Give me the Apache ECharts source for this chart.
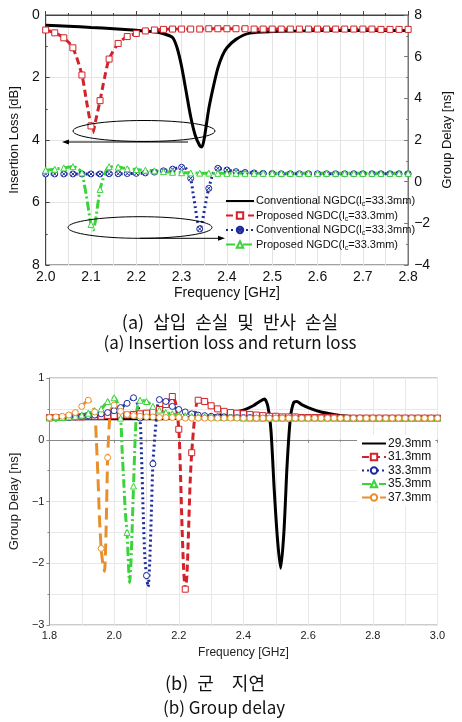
<!DOCTYPE html>
<html>
<head>
<meta charset="utf-8">
<script src="https://cdn.jsdelivr.net/npm/echarts@6/dist/echarts.min.js"></script>
<style>
  html, body { margin: 0; padding: 0; background: #fff; }
  #chart { width: 462px; height: 722px; }
</style>
</head>
<body>
<div id="chart"></div>
<script>
// (a) insertion loss [dB] (left axis) and group delay [ns] (right axis), freq in GHz
const convIL = [[2.00,0.33],[2.05,0.36],[2.10,0.40],[2.15,0.44],[2.20,0.49],[2.24,0.54],[2.26,0.60],[2.28,0.72],[2.29,1.05],[2.30,1.65],[2.31,2.45],[2.32,3.25],[2.33,3.85],[2.34,4.18],[2.345,4.22],[2.35,3.95],[2.36,3.0],[2.37,2.3],[2.38,1.7],[2.39,1.3],[2.40,1.05],[2.42,0.78],[2.45,0.58],[2.50,0.53],[2.60,0.50],[2.70,0.49],[2.80,0.50]]
const propIL = [[2.00,0.48],[2.02,0.57],[2.04,0.73],[2.06,1.05],[2.08,1.92],[2.09,2.75],[2.10,3.55],[2.104,3.77],[2.11,3.4],[2.12,2.74],[2.13,2.0],[2.14,1.41],[2.16,0.91],[2.18,0.69],[2.20,0.59],[2.22,0.51],[2.24,0.48],[2.26,0.46],[2.28,0.45],[2.30,0.45],[2.32,0.45],[2.34,0.45],[2.36,0.44],[2.38,0.44],[2.40,0.44],[2.42,0.44],[2.44,0.44],[2.46,0.45],[2.48,0.45],[2.50,0.45],[2.52,0.45],[2.54,0.45],[2.56,0.45],[2.58,0.45],[2.60,0.45],[2.62,0.45],[2.64,0.45],[2.66,0.45],[2.68,0.45],[2.70,0.45],[2.72,0.45],[2.74,0.46],[2.76,0.46],[2.78,0.46],[2.80,0.46]]
const convGD = [[2.00,0.37],[2.02,0.37],[2.04,0.37],[2.06,0.37],[2.08,0.37],[2.10,0.37],[2.12,0.37],[2.14,0.38],[2.16,0.38],[2.18,0.39],[2.20,0.40],[2.22,0.42],[2.24,0.46],[2.26,0.52],[2.28,0.60],[2.30,0.69],[2.31,0.62],[2.32,0.16],[2.325,-0.5],[2.33,-1.2],[2.335,-1.9],[2.34,-2.27],[2.345,-2.0],[2.35,-1.4],[2.355,-0.8],[2.36,-0.32],[2.37,0.42],[2.38,0.64],[2.40,0.56],[2.42,0.48],[2.44,0.44],[2.46,0.42],[2.48,0.40],[2.50,0.39],[2.52,0.38],[2.54,0.38],[2.56,0.38],[2.58,0.38],[2.60,0.38],[2.62,0.38],[2.64,0.38],[2.66,0.38],[2.68,0.38],[2.70,0.38],[2.72,0.38],[2.74,0.38],[2.76,0.38],[2.78,0.38],[2.80,0.38]]
const propGD = [[2.00,0.55],[2.02,0.60],[2.04,0.66],[2.06,0.72],[2.07,0.65],[2.08,0.42],[2.085,-0.1],[2.09,-0.7],[2.095,-1.4],[2.10,-2.05],[2.105,-2.32],[2.11,-1.85],[2.115,-1.1],[2.12,-0.37],[2.13,0.35],[2.14,0.72],[2.16,0.70],[2.18,0.62],[2.20,0.58],[2.22,0.55],[2.24,0.52],[2.26,0.48],[2.28,0.45],[2.30,0.43],[2.32,0.42],[2.34,0.41],[2.36,0.41],[2.38,0.40],[2.40,0.40],[2.42,0.40],[2.44,0.40],[2.46,0.40],[2.48,0.40],[2.50,0.40],[2.52,0.40],[2.54,0.40],[2.56,0.40],[2.58,0.40],[2.60,0.40],[2.62,0.40],[2.64,0.40],[2.66,0.40],[2.68,0.40],[2.70,0.40],[2.72,0.40],[2.74,0.40],[2.76,0.40],[2.78,0.40],[2.80,0.40]]

// (b) group delay [ns] for five lengths
const gd293 = [[1.80,0.34],[1.90,0.34],[2.00,0.34],[2.10,0.34],[2.20,0.35],[2.25,0.36],[2.30,0.38],[2.35,0.42],[2.40,0.48],[2.43,0.55],[2.45,0.62],[2.465,0.66],[2.475,0.55],[2.485,0.15],[2.495,-0.8],[2.505,-1.6],[2.515,-2.08],[2.525,-1.5],[2.535,-0.4],[2.545,0.35],[2.555,0.6],[2.565,0.62],[2.58,0.57],[2.61,0.50],[2.64,0.45],[2.68,0.41],[2.72,0.38],[2.80,0.36],[2.90,0.35],[3.00,0.35]]
const gd313 = [[1.80,0.36],[1.82,0.36],[1.84,0.36],[1.86,0.37],[1.88,0.37],[1.90,0.37],[1.92,0.38],[1.94,0.38],[1.96,0.38],[1.98,0.39],[2.00,0.39],[2.02,0.40],[2.04,0.40],[2.06,0.41],[2.08,0.42],[2.10,0.43],[2.12,0.45],[2.14,0.49],[2.16,0.57],[2.18,0.70],[2.19,0.60],[2.20,0.17],[2.205,-0.5],[2.21,-1.4],[2.215,-2.1],[2.22,-2.42],[2.225,-2.2],[2.23,-1.5],[2.235,-0.7],[2.24,-0.21],[2.25,0.40],[2.26,0.64],[2.28,0.62],[2.30,0.55],[2.32,0.50],[2.34,0.46],[2.36,0.44],[2.38,0.43],[2.40,0.42],[2.42,0.41],[2.44,0.40],[2.46,0.39],[2.48,0.38],[2.50,0.38],[2.52,0.37],[2.54,0.37],[2.56,0.37],[2.58,0.36],[2.60,0.36],[2.62,0.36],[2.64,0.36],[2.66,0.36],[2.68,0.36],[2.70,0.35],[2.72,0.35],[2.74,0.35],[2.76,0.35],[2.78,0.35],[2.80,0.35],[2.82,0.35],[2.84,0.35],[2.86,0.35],[2.88,0.35],[2.90,0.35],[2.92,0.35],[2.94,0.35],[2.96,0.35],[2.98,0.35],[3.00,0.35]]
const gd333 = [[1.80,0.35],[1.82,0.35],[1.84,0.36],[1.86,0.36],[1.88,0.37],[1.90,0.38],[1.92,0.39],[1.94,0.40],[1.96,0.42],[1.98,0.44],[2.00,0.47],[2.02,0.52],[2.04,0.59],[2.06,0.68],[2.07,0.62],[2.08,0.35],[2.085,-0.3],[2.09,-1.2],[2.095,-1.9],[2.10,-2.2],[2.105,-2.38],[2.11,-2.0],[2.115,-1.2],[2.12,-0.39],[2.13,0.30],[2.14,0.65],[2.16,0.62],[2.18,0.54],[2.20,0.49],[2.22,0.45],[2.24,0.42],[2.26,0.40],[2.28,0.39],[2.30,0.38],[2.32,0.37],[2.34,0.37],[2.36,0.36],[2.38,0.36],[2.40,0.36],[2.42,0.36],[2.44,0.35],[2.46,0.35],[2.48,0.35],[2.50,0.35],[2.52,0.35],[2.54,0.35],[2.56,0.35],[2.58,0.35],[2.60,0.35],[2.62,0.35],[2.64,0.35],[2.66,0.35],[2.68,0.35],[2.70,0.35],[2.72,0.35],[2.74,0.35],[2.76,0.35],[2.78,0.35],[2.80,0.35],[2.82,0.35],[2.84,0.35],[2.86,0.35],[2.88,0.35],[2.90,0.35],[2.92,0.35],[2.94,0.35],[2.96,0.35],[2.98,0.35],[3.00,0.35]]
const gd353 = [[1.80,0.35],[1.82,0.36],[1.84,0.36],[1.86,0.37],[1.88,0.38],[1.90,0.40],[1.92,0.43],[1.94,0.46],[1.96,0.50],[1.98,0.62],[2.00,0.68],[2.01,0.60],[2.02,0.35],[2.025,-0.2],[2.03,-0.7],[2.035,-1.2],[2.04,-1.5],[2.045,-2.1],[2.048,-2.31],[2.052,-2.0],[2.056,-1.4],[2.06,-0.75],[2.065,0.0],[2.07,0.45],[2.08,0.64],[2.10,0.62],[2.12,0.54],[2.14,0.48],[2.16,0.44],[2.18,0.42],[2.20,0.40],[2.22,0.39],[2.24,0.38],[2.26,0.38],[2.28,0.37],[2.30,0.37],[2.32,0.36],[2.34,0.36],[2.36,0.36],[2.38,0.36],[2.40,0.35],[2.42,0.35],[2.44,0.35],[2.46,0.35],[2.48,0.35],[2.50,0.35],[2.52,0.35],[2.54,0.35],[2.56,0.35],[2.58,0.35],[2.60,0.35],[2.62,0.35],[2.64,0.35],[2.66,0.35],[2.68,0.35],[2.70,0.35],[2.72,0.35],[2.74,0.35],[2.76,0.35],[2.78,0.35],[2.80,0.35],[2.82,0.35],[2.84,0.35],[2.86,0.35],[2.88,0.35],[2.90,0.35],[2.92,0.35],[2.94,0.35],[2.96,0.35],[2.98,0.35],[3.00,0.35]]
const gd373 = [[1.80,0.36],[1.82,0.37],[1.84,0.38],[1.86,0.40],[1.88,0.44],[1.90,0.54],[1.92,0.64],[1.93,0.60],[1.94,0.45],[1.945,0.0],[1.95,-0.6],[1.955,-1.3],[1.96,-1.76],[1.965,-2.0],[1.97,-2.13],[1.975,-1.5],[1.98,-0.29],[1.985,0.25],[1.99,0.48],[2.00,0.56],[2.02,0.46],[2.04,0.41],[2.06,0.39],[2.08,0.38],[2.10,0.37],[2.12,0.37],[2.14,0.36],[2.16,0.36],[2.18,0.36],[2.20,0.36],[2.22,0.35],[2.24,0.35],[2.26,0.35],[2.28,0.35],[2.30,0.35],[2.32,0.35],[2.34,0.35],[2.36,0.35],[2.38,0.35],[2.40,0.35],[2.42,0.35],[2.44,0.35],[2.46,0.35],[2.48,0.35],[2.50,0.35],[2.52,0.35],[2.54,0.35],[2.56,0.35],[2.58,0.35],[2.60,0.35],[2.62,0.35],[2.64,0.35],[2.66,0.35],[2.68,0.35],[2.70,0.35],[2.72,0.35],[2.74,0.35],[2.76,0.35],[2.78,0.35],[2.80,0.35],[2.82,0.35],[2.84,0.35],[2.86,0.35],[2.88,0.35],[2.90,0.35],[2.92,0.35],[2.94,0.35],[2.96,0.35],[2.98,0.35],[3.00,0.35]]

const legendTop = {
  convIL: 'Conventional NGDC(l{sub|c}=33.3mm)',
  propIL: 'Proposed NGDC(l{sub|c}=33.3mm)',
  convGD: 'Conventional NGDC(l{sub|c}=33.3mm)',
  propGD: 'Proposed NGDC(l{sub|c}=33.3mm)'
}
const lengths = ['29.3mm', '31.3mm', '33.3mm', '35.3mm', '37.3mm']

const FONT = '"Liberation Sans", Arial, sans-serif'
const KFONT = '"Noto Sans CJK KR", sans-serif'
const RED = '#d2232a', BLUE = '#1b2a9c', GREEN = '#3ad43a', ORANGE = '#e88f2c'
// open circle with a cross, like the conventional group-delay markers
const CROSS_CIRCLE = 'path://M20,10A10,10,0,1,1,0,10A10,10,0,1,1,20,10Z M3,3L17,17 M17,3L3,17'

// markers only on the 0.02 GHz grid
function marked(arr) {
  return arr.map(p => {
    const k = p[0] * 50
    return Math.abs(k - Math.round(k)) < 1e-6 ? p : { value: p, symbol: 'none' }
  })
}
const minus = v => String(v).replace('-', '\u2212')

function lineSeries(name, data, color, type, symbol, axis) {
  const plain = symbol === 'none'
  return {
    name: name,
    type: 'line',
    xAxisIndex: axis[0],
    yAxisIndex: axis[1],
    data: plain ? data : marked(data),
    smooth: 0.25,
    symbol: symbol,
    symbolSize: 6,
    showSymbol: true,
    showAllSymbol: true,
    lineStyle: { color: color, width: 3, type: type },
    itemStyle: plain ? { color: color, opacity: 0 } : { color: '#fff', borderColor: color, borderWidth: 1 },
    emphasis: { disabled: true },
    animation: false
  }
}

const axisText = (size, color) => ({ fontSize: size, color: color, fontFamily: FONT })

const myChart = echarts.init(document.getElementById('chart'))
myChart.setOption({
  backgroundColor: '#fff',
  textStyle: { fontFamily: FONT },
  grid: [
    { left: 38, top: 15, width: 379, height: 250, show: true, borderColor: '#444', borderWidth: 1 },
    { left: 38.5, top: 378, width: 399, height: 247, show: true, borderColor: '#999', borderWidth: 1 }
  ],
  xAxis: [
    {
      type: 'value', gridIndex: 0, min: 2.0, max: 2.8, interval: 0.1,
      name: 'Frequency [GHz]', nameLocation: 'middle', nameGap: 21,
      nameTextStyle: axisText(14, '#111'),
      axisLine: { lineStyle: { color: '#444' } },
      axisTick: { inside: true, length: 4, lineStyle: { color: '#444' } },
      minorTick: { show: true, splitNumber: 2, length: 2, lineStyle: { color: '#444' } },
      splitLine: { show: true, lineStyle: { color: '#e4e4e4' } },
      minorSplitLine: { show: true, lineStyle: { color: '#e4e4e4' } },
      axisLabel: Object.assign(axisText(14, '#111'), { margin: 5, formatter: v => v.toFixed(1) })
    },
    {
      type: 'value', gridIndex: 1, min: 1.8, max: 3.0, interval: 0.2,
      name: 'Frequency [GHz]', nameLocation: 'middle', nameGap: 22,
      nameTextStyle: axisText(12, '#222'),
      axisLine: { lineStyle: { color: '#888' } },
      axisTick: { length: 3, lineStyle: { color: '#888' } },
      minorTick: { show: true, splitNumber: 2, length: 2, lineStyle: { color: '#888' } },
      splitLine: { show: true, lineStyle: { color: '#e8e8e8' } },
      minorSplitLine: { show: true, lineStyle: { color: '#e8e8e8' } },
      axisLabel: Object.assign(axisText(11, '#222'), { margin: 5, formatter: v => v.toFixed(1) })
    }
  ],
  yAxis: [
    {
      type: 'value', gridIndex: 0, min: 0, max: 8, interval: 2, inverse: true,
      name: 'Insertion Loss [dB]', nameLocation: 'middle', nameGap: 20, nameRotate: 90,
      nameTextStyle: axisText(13, '#111'),
      axisLine: { show: true, lineStyle: { color: '#444' } },
      axisTick: { show: true, inside: true, length: 4, lineStyle: { color: '#444' } },
      minorTick: { show: true, splitNumber: 2, length: 2, lineStyle: { color: '#444' } },
      splitLine: { show: true, lineStyle: { color: '#e4e4e4' } },
      axisLabel: Object.assign(axisText(14, '#111'), { margin: 6 })
    },
    {
      type: 'value', gridIndex: 0, min: -4, max: 8, interval: 2, position: 'right',
      name: 'Group Delay [ns]', nameLocation: 'middle', nameGap: 26, nameRotate: 90,
      nameTextStyle: axisText(13, '#111'),
      axisLine: { show: true, lineStyle: { color: '#777' } },
      axisTick: { show: true, inside: true, length: 4, lineStyle: { color: '#777' } },
      minorTick: { show: true, splitNumber: 2, length: 2, lineStyle: { color: '#777' } },
      splitLine: { show: false },
      axisLabel: Object.assign(axisText(14, '#111'), { margin: 6, formatter: minus })
    },
    {
      type: 'value', gridIndex: 1, min: -3, max: 1, interval: 1,
      name: 'Group Delay [ns]', nameLocation: 'middle', nameGap: 20, nameRotate: 90,
      nameTextStyle: axisText(13, '#222'),
      axisLine: { show: true, lineStyle: { color: '#888' } },
      axisTick: { show: true, length: 3, lineStyle: { color: '#888' } },
      minorTick: { show: true, splitNumber: 2, length: 2, lineStyle: { color: '#888' } },
      splitLine: { show: true, lineStyle: { color: '#e8e8e8' } },
      minorSplitLine: { show: true, lineStyle: { color: '#e8e8e8' } },
      axisLabel: Object.assign(axisText(11, '#222'), { margin: 5, formatter: minus })
    }
  ],
  legend: [
    {
      data: ['convIL', 'propIL', 'convGD', 'propGD'],
      orient: 'vertical', left: 225, top: 194, itemWidth: 28, itemHeight: 8, itemGap: 0.5, padding: 0,
      formatter: n => legendTop[n],
      selectedMode: false,
      textStyle: { fontSize: 11, color: '#111', fontFamily: FONT, padding: [0, 0, 0, -3], lineHeight: 14,
        rich: { sub: { fontSize: 7, lineHeight: 14, fontFamily: FONT, verticalAlign: 'bottom' } } }
    },
    {
      data: lengths,
      orient: 'vertical', left: 357, top: 435, itemWidth: 24, itemHeight: 8, itemGap: 0.5,
      backgroundColor: '#fff', padding: [2, 4, 2, 4],
      selectedMode: false,
      textStyle: { fontSize: 12, color: '#111', fontFamily: FONT, lineHeight: 13, padding: [0, 0, 0, -3] }
    }
  ],
  series: [
    lineSeries('convIL', convIL, '#000', 'solid', 'none', [0, 0]),
    lineSeries('propIL', propIL, RED, [7, 4], 'rect', [0, 0]),
    lineSeries('convGD', convGD, BLUE, [2, 3], CROSS_CIRCLE, [0, 1]),
    lineSeries('propGD', propGD, GREEN, [9, 3, 2, 3], 'triangle', [0, 1]),
    lineSeries(lengths[0], gd293, '#000', 'solid', 'none', [1, 2]),
    lineSeries(lengths[1], gd313, RED, [7, 4], 'rect', [1, 2]),
    lineSeries(lengths[2], gd333, BLUE, [2, 3], 'circle', [1, 2]),
    lineSeries(lengths[3], gd353, GREEN, [9, 3, 2, 3], 'triangle', [1, 2]),
    lineSeries(lengths[4], gd373, ORANGE, [12, 6], 'circle', [1, 2])
  ],
  graphic: [
    { type: 'ellipse', shape: { cx: 144, cy: 131, rx: 71, ry: 10.5 }, style: { fill: 'none', stroke: '#000', lineWidth: 1 }, z: 10 },
    { type: 'line', shape: { x1: 188, y1: 142, x2: 66, y2: 142 }, style: { stroke: '#000', lineWidth: 1 }, z: 10 },
    { type: 'polygon', shape: { points: [[62, 142], [69, 139.5], [69, 144.5]] }, style: { fill: '#000' }, z: 10 },
    { type: 'ellipse', shape: { cx: 140, cy: 227.5, rx: 72, ry: 10.8 }, style: { fill: 'none', stroke: '#000', lineWidth: 1 }, z: 10 },
    { type: 'line', shape: { x1: 140, y1: 238.3, x2: 221, y2: 238.3 }, style: { stroke: '#000', lineWidth: 1 }, z: 10 },
    { type: 'polygon', shape: { points: [[225, 238.3], [218, 235.8], [218, 240.8]] }, style: { fill: '#000' }, z: 10 },
    { type: 'text', x: 230, y: 322, style: { text: '(a)\u2002삽입\u2002손실\u2002및\u2002반사\u2002손실', fontSize: 18, fontFamily: KFONT, fill: '#111', align: 'center', verticalAlign: 'middle' } },
    { type: 'text', x: 230, y: 343, style: { text: '(a) Insertion loss and return loss', fontSize: 17, fontFamily: KFONT, fill: '#111', align: 'center', verticalAlign: 'middle' } },
    { type: 'text', x: 215, y: 683, style: { text: '(b)\u2002군\u2002\u2002지연', fontSize: 18, fontFamily: KFONT, fill: '#111', align: 'center', verticalAlign: 'middle' } },
    { type: 'text', x: 224, y: 708, style: { text: '(b) Group delay', fontSize: 17, fontFamily: KFONT, fill: '#111', align: 'center', verticalAlign: 'middle' } }
  ]
})
window.onresize = () => { myChart.resize() }
</script>
</body>
</html>
